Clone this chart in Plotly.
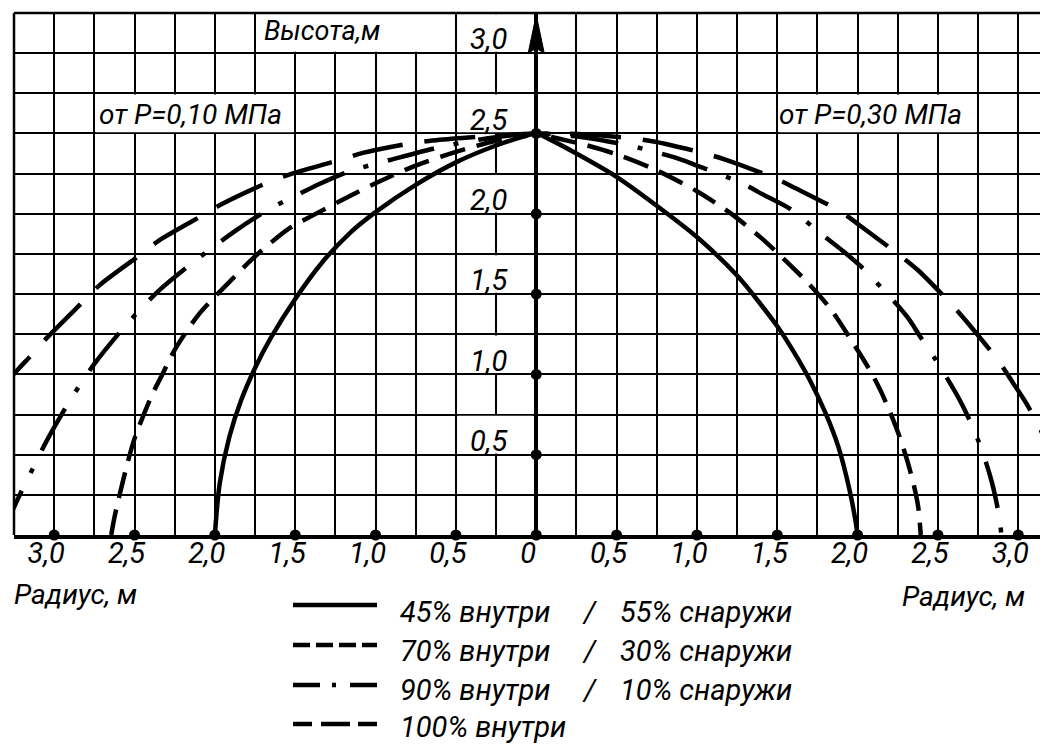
import plotly.graph_objects as go

# ---------------- data (radius in m, height in m) ----------------
# left half: P = 0.10 MPa, right half: P = 0.30 MPa
x_45 = [-2.0, -1.97, -1.91, -1.836, -1.75, -1.65, -1.5, -1.33, -1.16, -1.0, -0.75, -0.5, -0.25, -0.08, 0.0,
        0.09, 0.25, 0.5, 0.75, 1.0, 1.25, 1.5, 1.6, 1.7, 1.8, 1.88, 1.95, 1.985, 2.0]
y_45 = [0.0, 0.32, 0.61, 0.84, 1.04, 1.23, 1.47, 1.70, 1.88, 2.01, 2.18, 2.32, 2.425, 2.48, 2.5,
        2.46, 2.375, 2.23, 2.05, 1.855, 1.615, 1.30, 1.145, 0.97, 0.76, 0.55, 0.28, 0.1, 0.0]

x_70 = [-2.645, -2.624, -2.555, -2.5, -2.396, -2.324, -2.24, -2.095, -1.909, -1.742, -1.535, -1.39, -1.16,
        -1.0, -0.75, -0.5, -0.25, 0.0, 0.13, 0.3, 0.5, 0.75, 1.0, 1.2, 1.4, 1.55, 1.7, 1.83, 1.95, 2.08,
        2.14, 2.2, 2.26, 2.31, 2.35, 2.378, 2.393]
y_70 = [0.0, 0.114, 0.404, 0.6, 0.86, 1.006, 1.17, 1.38, 1.576, 1.742, 1.91, 1.99, 2.11,
        2.19, 2.3, 2.385, 2.455, 2.5, 2.47, 2.43, 2.37, 2.27, 2.14, 2.01, 1.85, 1.71, 1.56, 1.41, 1.23, 1.02,
        0.905, 0.77, 0.615, 0.46, 0.31, 0.17, 0.0]

x_90 = [-3.32, -3.26, -3.19, -3.12, -3.05, -2.9, -2.75, -2.55, -2.35, -2.1, -1.87, -1.66, -1.47, -1.35,
        -1.16, -0.91, -0.6, -0.3, 0.0, 0.3, 0.6, 0.88, 1.0, 1.28, 1.42, 1.58, 1.785, 1.904, 2.014, 2.222,
        2.315, 2.39, 2.48, 2.555, 2.633, 2.69, 2.75, 2.803, 2.838, 2.865, 2.885, 2.895]
y_90 = [0.0, 0.15, 0.3, 0.44, 0.58, 0.84, 1.065, 1.31, 1.52, 1.725, 1.895, 2.03, 2.125, 2.185,
        2.265, 2.335, 2.415, 2.47, 2.5, 2.475, 2.42, 2.345, 2.3, 2.19, 2.115, 2.03, 1.865, 1.772, 1.678, 1.46,
        1.35, 1.235, 1.10, 0.98, 0.845, 0.73, 0.59, 0.44, 0.32, 0.2, 0.09, 0.0]

x_100 = [-3.36, -3.257, -3.142, -3.049, -2.821, -2.717, -2.468, -2.344, -2.075, -1.95, -1.66, -1.515, -1.213,
         -1.079, -0.768, -0.622, -0.301, 0.0, 0.29, 0.6, 0.74, 1.05, 1.19, 1.49, 1.618, 1.899, 2.014, 2.264,
         2.378, 2.596, 2.69, 2.887, 2.969, 3.05, 3.125, 3.18, 3.26]
y_100 = [0.87, 0.996, 1.12, 1.224, 1.452, 1.556, 1.742, 1.836, 1.991, 2.064, 2.199, 2.251, 2.338,
         2.379, 2.441, 2.458, 2.483, 2.5, 2.495, 2.469, 2.448, 2.375, 2.333, 2.219, 2.157, 2.011, 1.927, 1.74,
         1.647, 1.423, 1.315, 1.07, 0.944, 0.82, 0.684, 0.565, 0.37]

xtick_vals = [-3.0, -2.5, -2.0, -1.5, -1.0, -0.5, 0.0, 0.5, 1.0, 1.5, 2.0, 2.5, 3.0]
xtick_text = ["3,0", "2,5", "2,0", "1,5", "1,0", "0,5", "0", "0,5", "1,0", "1,5", "2,0", "2,5", "3,0"]
ytick_vals = [0.5, 1.0, 1.5, 2.0, 2.5, 3.0]
ytick_text = ["0,5", "1,0", "1,5", "2,0", "2,5", "3,0"]
xaxis_dots = [-3.0, -2.5, -2.0, -1.5, -1.0, -0.5, 0.0, 0.5, 1.0, 1.5, 2.0, 2.5, 3.0]
yaxis_dots = [0.5, 1.0, 1.5, 2.0, 2.5]

legend_left = ["45% внутри", "70% внутри", "90% внутри", "100% внутри"]
legend_right = ["55% снаружи", "30% снаружи", "10% снаружи", ""]

# ---------------- style ----------------
FONT = "Roboto, Noto Sans, sans-serif"
W, H = 1048, 746
PAGE = 8                       # default body margin of the page
PL, PT, PW, PH = 14, 13, 1034, 522   # wanted plot area in window pixels
ML, MT = PL - PAGE, PT - PAGE
MR = W - ML - PW
MB = H - MT - PH
XR = [-3.25, 3.185]
YR = [0.0, 3.25]
LW = 4.5
DASH_70 = "26px,12px"
DASH_90 = "48px,20px,5px,20px"
DASH_100 = "51px,22px"


def pxx(px):
    return (px - PL) / PW


def pxy(py):
    return (PT + PH - py) / PH


fig = go.Figure()
styles = [(x_45, y_45, "solid"), (x_70, y_70, DASH_70), (x_90, y_90, DASH_90), (x_100, y_100, DASH_100)]
for xs, ys, dash in styles:
    fig.add_trace(go.Scatter(x=xs, y=ys, mode="lines",
                             line=dict(color="black", width=LW, dash=dash, shape="spline", smoothing=0.8),
                             hoverinfo="skip", showlegend=False))

fig.add_trace(go.Scatter(x=xaxis_dots, y=[0] * len(xaxis_dots), mode="markers",
                         marker=dict(color="black", size=11), cliponaxis=False,
                         showlegend=False, hoverinfo="skip"))
fig.add_trace(go.Scatter(x=[0] * len(yaxis_dots), y=yaxis_dots, mode="markers", yaxis="y2",
                         marker=dict(color="black", size=11), cliponaxis=False,
                         showlegend=False, hoverinfo="skip"))

grid = dict(showgrid=True, gridcolor="black", gridwidth=2)
tickfont = dict(family=FONT, size=29, color="black", style="italic")

fig.update_layout(
    width=W, height=H,
    margin=dict(l=ML, r=MR, t=MT, b=MB, autoexpand=False),
    paper_bgcolor="white", plot_bgcolor="white",
    showlegend=False,
    xaxis=dict(range=XR, tickmode="array", tickvals=xtick_vals, ticktext=xtick_text, ticks="",
               tickfont=tickfont, ticklabelshift=-8, ticklabelstandoff=-11,
               minor=dict(tickmode="linear", tick0=0, dtick=0.25, **grid),
               zeroline=True, zerolinecolor="black", zerolinewidth=4,
               showline=True, linecolor="black", linewidth=3.5, fixedrange=True, **grid),
    yaxis=dict(range=YR, tickmode="linear", tick0=0, dtick=0.5, showticklabels=False, ticks="",
               minor=dict(tickmode="linear", tick0=0, dtick=0.25, **grid),
               zeroline=False, showline=False, fixedrange=True, **grid),
    yaxis2=dict(range=YR, overlaying="y", anchor="free", position=(0 - XR[0]) / (XR[1] - XR[0]),
                side="left", tickmode="array", tickvals=ytick_vals, ticktext=ytick_text, ticks="",
                tickfont=tickfont, ticklabelshift=-14, ticklabelstandoff=29,
                showgrid=False, zeroline=False, showline=False, fixedrange=True),
)

shapes = []
# white cells behind labels (hide grid lines)
mask_cells = [(-0.49, -0.02, v + 0.008, v + 0.242) for v in ytick_vals]
mask_cells += [(-1.742, -0.508, 3.008, 3.245), (-2.742, -1.508, 2.508, 2.742), (1.508, 2.742, 2.508, 2.742)]
for x0, x1, y0, y1 in mask_cells:
    shapes.append(dict(type="rect", xref="x", yref="y", x0=x0, x1=x1, y0=y0, y1=y1,
                       fillcolor="white", line=dict(width=0), layer="between"))
# frame (top, left)
shapes.append(dict(type="line", xref="paper", yref="paper", x0=0, x1=1, y0=1, y1=1,
                   line=dict(color="black", width=2.5)))
shapes.append(dict(type="line", xref="paper", yref="paper", x0=0, x1=0, y0=0, y1=1,
                   line=dict(color="black", width=2.5)))
# arrow head of the height axis
shapes.append(dict(type="path", xref="x", yref="y", path="M 0,3.238 L 0.05,3.0 L 0,3.03 L -0.05,3.0 Z",
                   fillcolor="black", line=dict(color="black", width=1)))
# legend samples
leg_rows_line = [605, 645, 685, 724]
leg_dash = ["solid", "17px,6px", "27px,12px,4px,14px,27px", "19px,9px,29px,8px,19px"]
for py, dash in zip(leg_rows_line, leg_dash):
    shapes.append(dict(type="line", xref="paper", yref="paper", x0=pxx(293), x1=pxx(377),
                       y0=pxy(py), y1=pxy(py), line=dict(color="black", width=LW, dash=dash)))
fig.update_layout(shapes=shapes)

ann_font = dict(family=FONT, size=29, color="black", style="italic")
lbl_font = dict(family=FONT, size=28, color="black", style="italic")
anns = [
    dict(text="Высота,м", x=-1.336, y=3.135, xref="x", yref="y",
         font=dict(family=FONT, size=27, color="black", style="italic")),
    dict(text="от P=0,10 МПа", x=-2.15, y=2.615, xref="x", yref="y", font=lbl_font),
    dict(text="от P=0,30 МПа", x=2.081, y=2.615, xref="x", yref="y", font=lbl_font),
    dict(text="Радиус, м", x=pxx(12), y=pxy(594), xref="paper", yref="paper", xanchor="left", font=lbl_font),
    dict(text="Радиус, м", x=pxx(900), y=pxy(596), xref="paper", yref="paper", xanchor="left", font=lbl_font),
]
leg_rows_text = [612, 651, 690, 727]
for py, lt, rt in zip(leg_rows_text, legend_left, legend_right):
    anns.append(dict(text=lt, x=pxx(398), y=pxy(py), xref="paper", yref="paper", xanchor="left", font=ann_font))
    if rt:
        anns.append(dict(text="/", x=pxx(589), y=pxy(py), xref="paper", yref="paper", font=ann_font))
        anns.append(dict(text=rt, x=pxx(618), y=pxy(py), xref="paper", yref="paper", xanchor="left", font=ann_font))
for a in anns:
    a.setdefault("xanchor", "center")
    a.update(yanchor="middle", showarrow=False)
fig.update_layout(annotations=anns)

fig.write_html("out.html")
